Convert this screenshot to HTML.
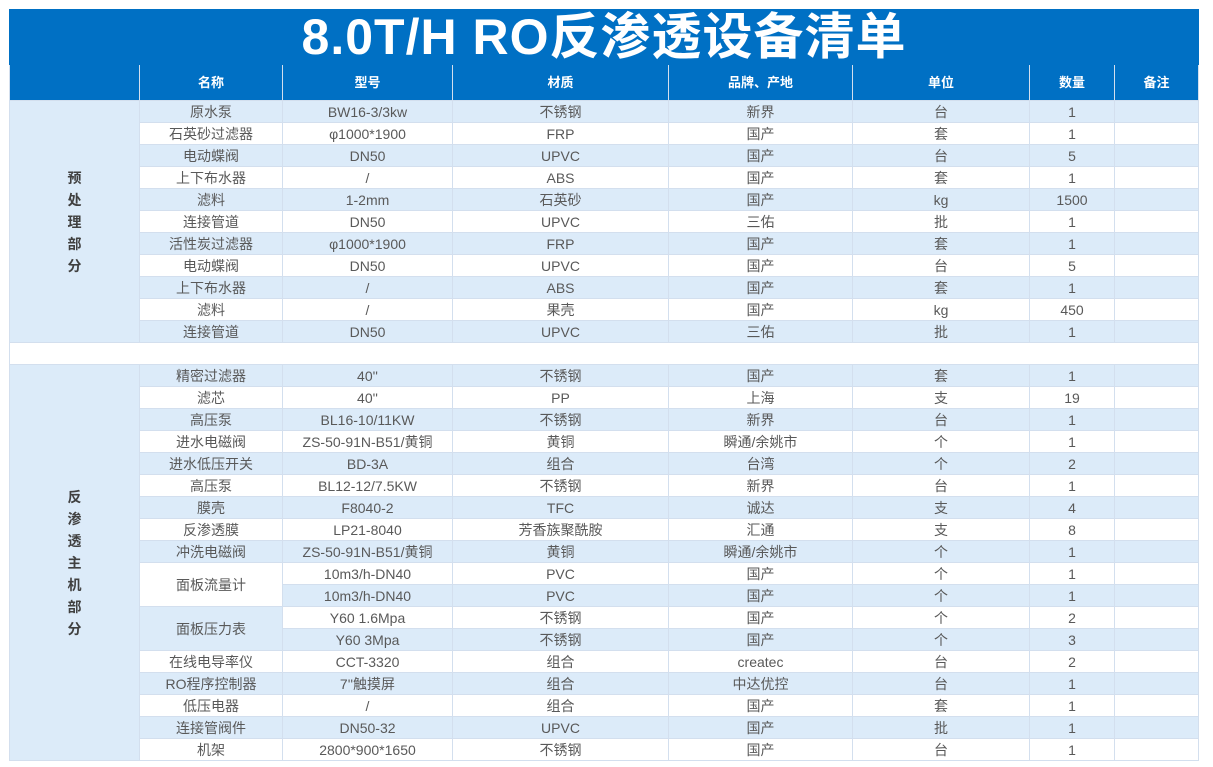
<!DOCTYPE html>
<html><head><meta charset="utf-8"><style>
body{margin:0;background:#fff;}
table{position:absolute;left:9px;top:9px;border-collapse:collapse;table-layout:fixed;font-family:"Liberation Sans","Noto Sans CJK SC",sans-serif;font-size:14px;color:#595959;}
td{border:1px solid #d3dfee;height:21px;padding:0;text-align:center;line-height:20px;white-space:nowrap;overflow:hidden;}
.t td{background:#0070c4;color:#fff;font-weight:bold;font-size:50px;letter-spacing:1px;height:54px;line-height:54px;border-color:#0070c4;}
.h td{background:#0070c4;color:#fff;font-weight:bold;font-size:13px;height:35px;border-color:#d3dfee;}
.L td{background:#dcebf9;}
.W td{background:#fff;}
td.s{background:#dcebf9 !important;font-weight:bold;color:#404040;line-height:22px;}
td.mw{background:#fff !important;}
td.ml{background:#dcebf9 !important;}
</style></head><body>
<table>
<colgroup><col style="width:130px"><col style="width:143px"><col style="width:170px"><col style="width:216px"><col style="width:184px"><col style="width:177px"><col style="width:85px"><col style="width:84px"></colgroup>
<tr class="t"><td colspan="8">8.0T/H RO反渗透设备清单</td></tr>
<tr class="h"><td></td><td>名称</td><td>型号</td><td>材质</td><td>品牌、产地</td><td>单位</td><td>数量</td><td>备注</td></tr>
<tr class="L"><td rowspan="11" class="s">预<br>处<br>理<br>部<br>分</td><td>原水泵</td><td>BW16-3/3kw</td><td>不锈钢</td><td>新界</td><td>台</td><td>1</td><td></td></tr>
<tr class="W"><td>石英砂过滤器</td><td>φ1000*1900</td><td>FRP</td><td>国产</td><td>套</td><td>1</td><td></td></tr>
<tr class="L"><td>电动蝶阀</td><td>DN50</td><td>UPVC</td><td>国产</td><td>台</td><td>5</td><td></td></tr>
<tr class="W"><td>上下布水器</td><td>/</td><td>ABS</td><td>国产</td><td>套</td><td>1</td><td></td></tr>
<tr class="L"><td>滤料</td><td>1-2mm</td><td>石英砂</td><td>国产</td><td>kg</td><td>1500</td><td></td></tr>
<tr class="W"><td>连接管道</td><td>DN50</td><td>UPVC</td><td>三佑</td><td>批</td><td>1</td><td></td></tr>
<tr class="L"><td>活性炭过滤器</td><td>φ1000*1900</td><td>FRP</td><td>国产</td><td>套</td><td>1</td><td></td></tr>
<tr class="W"><td>电动蝶阀</td><td>DN50</td><td>UPVC</td><td>国产</td><td>台</td><td>5</td><td></td></tr>
<tr class="L"><td>上下布水器</td><td>/</td><td>ABS</td><td>国产</td><td>套</td><td>1</td><td></td></tr>
<tr class="W"><td>滤料</td><td>/</td><td>果壳</td><td>国产</td><td>kg</td><td>450</td><td></td></tr>
<tr class="L"><td>连接管道</td><td>DN50</td><td>UPVC</td><td>三佑</td><td>批</td><td>1</td><td></td></tr>
<tr class="W"><td colspan="8"></td></tr>
<tr class="L"><td rowspan="18" class="s">反<br>渗<br>透<br>主<br>机<br>部<br>分</td><td>精密过滤器</td><td>40''</td><td>不锈钢</td><td>国产</td><td>套</td><td>1</td><td></td></tr>
<tr class="W"><td>滤芯</td><td>40''</td><td>PP</td><td>上海</td><td>支</td><td>19</td><td></td></tr>
<tr class="L"><td>高压泵</td><td>BL16-10/11KW</td><td>不锈钢</td><td>新界</td><td>台</td><td>1</td><td></td></tr>
<tr class="W"><td>进水电磁阀</td><td>ZS-50-91N-B51/黄铜</td><td>黄铜</td><td>瞬通/余姚市</td><td>个</td><td>1</td><td></td></tr>
<tr class="L"><td>进水低压开关</td><td>BD-3A</td><td>组合</td><td>台湾</td><td>个</td><td>2</td><td></td></tr>
<tr class="W"><td>高压泵</td><td>BL12-12/7.5KW</td><td>不锈钢</td><td>新界</td><td>台</td><td>1</td><td></td></tr>
<tr class="L"><td>膜壳</td><td>F8040-2</td><td>TFC</td><td>诚达</td><td>支</td><td>4</td><td></td></tr>
<tr class="W"><td>反渗透膜</td><td>LP21-8040</td><td>芳香族聚酰胺</td><td>汇通</td><td>支</td><td>8</td><td></td></tr>
<tr class="L"><td>冲洗电磁阀</td><td>ZS-50-91N-B51/黄铜</td><td>黄铜</td><td>瞬通/余姚市</td><td>个</td><td>1</td><td></td></tr>
<tr class="W"><td rowspan="2" class="mw">面板流量计</td><td>10m3/h-DN40</td><td>PVC</td><td>国产</td><td>个</td><td>1</td><td></td></tr>
<tr class="L"><td>10m3/h-DN40</td><td>PVC</td><td>国产</td><td>个</td><td>1</td><td></td></tr>
<tr class="W"><td rowspan="2" class="ml">面板压力表</td><td>Y60 1.6Mpa</td><td>不锈钢</td><td>国产</td><td>个</td><td>2</td><td></td></tr>
<tr class="L"><td>Y60 3Mpa</td><td>不锈钢</td><td>国产</td><td>个</td><td>3</td><td></td></tr>
<tr class="W"><td>在线电导率仪</td><td>CCT-3320</td><td>组合</td><td>createc</td><td>台</td><td>2</td><td></td></tr>
<tr class="L"><td>RO程序控制器</td><td>7''触摸屏</td><td>组合</td><td>中达优控</td><td>台</td><td>1</td><td></td></tr>
<tr class="W"><td>低压电器</td><td>/</td><td>组合</td><td>国产</td><td>套</td><td>1</td><td></td></tr>
<tr class="L"><td>连接管阀件</td><td>DN50-32</td><td>UPVC</td><td>国产</td><td>批</td><td>1</td><td></td></tr>
<tr class="W"><td>机架</td><td>2800*900*1650</td><td>不锈钢</td><td>国产</td><td>台</td><td>1</td><td></td></tr>
</table>
</body></html>
